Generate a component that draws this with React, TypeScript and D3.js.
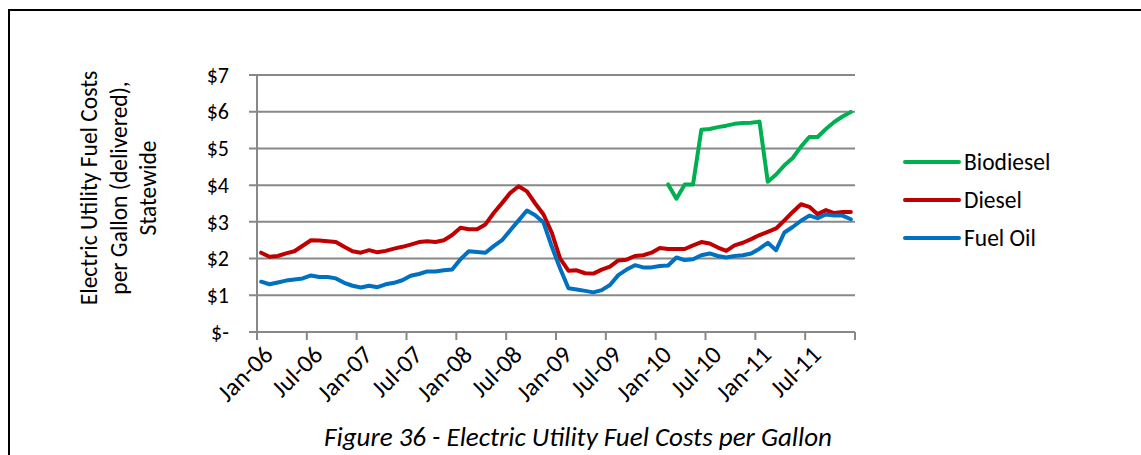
import * as d3 from "d3";

const months = d3.range(72).map((i) => new Date(2006, i, 1));

const diesel = [
  2.16, 2.05, 2.07, 2.14, 2.2, 2.35, 2.5, 2.49, 2.47, 2.45, 2.32, 2.2,
  2.16, 2.23, 2.17, 2.21, 2.27, 2.32, 2.38, 2.45, 2.47, 2.45, 2.5, 2.64,
  2.84, 2.8, 2.8, 2.93, 3.24, 3.51, 3.79, 3.97, 3.83, 3.5, 3.2, 2.7,
  2.0, 1.67, 1.68, 1.6, 1.59, 1.7, 1.78, 1.95, 1.97, 2.07, 2.09, 2.16,
  2.29, 2.26, 2.26, 2.26, 2.36, 2.45, 2.41, 2.3, 2.21, 2.36, 2.43, 2.53,
  2.64, 2.73, 2.82, 3.04, 3.27, 3.48, 3.41, 3.21, 3.32, 3.24, 3.27, 3.27,
];

const fuelOil = [
  1.37, 1.3, 1.35, 1.4, 1.43, 1.46, 1.54, 1.5, 1.5, 1.46, 1.34, 1.26,
  1.21, 1.26, 1.22, 1.3, 1.34, 1.41, 1.53, 1.58, 1.65, 1.65, 1.68, 1.7,
  1.98, 2.2, 2.18, 2.16, 2.34, 2.5, 2.77, 3.04, 3.31, 3.18, 2.98, 2.32,
  1.73, 1.19, 1.16, 1.12, 1.08, 1.14, 1.28, 1.55, 1.7, 1.82, 1.76, 1.76,
  1.8, 1.81, 2.03, 1.96, 1.98, 2.09, 2.14, 2.07, 2.03, 2.07, 2.09, 2.14,
  2.27, 2.43, 2.23, 2.71, 2.86, 3.03, 3.17, 3.1, 3.2, 3.17, 3.17, 3.07,
];

// biodiesel only reported from Feb-10 onward
const biodiesel: (number | null)[] = [
  ...Array(49).fill(null),
  4.02, 3.63, 4.02, 4.02, 5.51, 5.53, 5.58, 5.62, 5.67, 5.69, 5.7,
  5.73, 4.09, 4.29, 4.54, 4.74, 5.05, 5.31, 5.31, 5.53, 5.72, 5.87, 5.99,
];

const yTicks = [0, 1, 2, 3, 4, 5, 6, 7];

const series = [
  { name: "Biodiesel", color: "#00B050", values: biodiesel },
  { name: "Diesel", color: "#C00000", values: diesel },
  { name: "Fuel Oil", color: "#0070C0", values: fuelOil },
];

const font = "Calibri, Carlito, 'Open Sans', sans-serif";

export default function App() {
  const width = 1141;
  const height = 455;
  const left = 257;
  const right = 855;
  const top = 75;
  const bottom = 332;

  const x = d3
    .scaleBand<number>()
    .domain(d3.range(months.length))
    .range([left, right]);
  const y = d3.scaleLinear([0, 7], [bottom, top]);
  const cx = (i: number) => x(i)! + x.bandwidth() / 2;

  const line = d3
    .line<number | null>()
    .defined((d) => d != null)
    .x((_, i) => cx(i))
    .y((d) => y(d as number));

  const fmtTick = (v: number) => (v === 0 ? "$-" : `$${v}`);
  const fmtMonth = d3.timeFormat("%b-%y");
  const tickIdx = d3.range(0, months.length + 1, 6);

  return (
    <svg
      width={width}
      height={height}
      style={{ position: "absolute", left: 0, top: 0, background: "#fff" }}
      fontFamily={font}
    >
      <rect x={9} y={10} width={width + 20} height={height + 20} fill="none" stroke="#000" strokeWidth={2} />

      {/* gridlines + y ticks */}
      {yTicks.map((v) => (
        <g key={v}>
          <line x1={249} x2={right} y1={y(v)} y2={y(v)} stroke="#888" strokeWidth={2} />
          <text x={229} y={y(v)} dy="0.35em" textAnchor="end" fontSize={22} fill="#000">
            {fmtTick(v)}
          </text>
        </g>
      ))}
      <line x1={left} x2={left} y1={top} y2={bottom} stroke="#888" strokeWidth={2} />

      {/* x ticks */}
      {tickIdx.map((i) => {
        const xp = i < months.length ? x(i)! : right;
        return <line key={i} x1={xp} x2={xp} y1={bottom} y2={bottom + 8} stroke="#888" strokeWidth={2} />;
      })}
      {tickIdx
        .filter((i) => i < months.length)
        .map((i) => (
          <text
            key={i}
            transform={`translate(${cx(i) + 7},${bottom + 18}) rotate(-45)`}
            textAnchor="end"
            dy="0.35em"
            fontSize={25}
            fill="#000"
          >
            {fmtMonth(months[i])}
          </text>
        ))}

      {/* lines */}
      {series.map((s) => (
        <path
          key={s.name}
          d={line(s.values) ?? ""}
          fill="none"
          stroke={s.color}
          strokeWidth={4}
          strokeLinejoin="round"
          strokeLinecap="round"
        />
      ))}

      {/* legend */}
      {series.map((s, k) => (
        <g key={s.name} transform={`translate(905,${162 + k * 38})`}>
          <line x1={0} x2={54} stroke={s.color} strokeWidth={4} strokeLinecap="round" />
          <text x={59} dy="0.35em" fontSize={23.5} fill="#000">
            {s.name}
          </text>
        </g>
      ))}

      {/* y axis title */}
      <g transform="translate(0,188) rotate(-90)" fontSize={23.5} textAnchor="middle" fill="#000">
        <text x={0} y={97}>Electric Utility Fuel Costs</text>
        <text x={0} y={127}>per Gallon (delivered),</text>
        <text x={0} y={156}>Statewide</text>
      </g>

      <text x={578} y={446} textAnchor="middle" fontSize={27} fontStyle="italic" fill="#000">
        Figure 36 - Electric Utility Fuel Costs per Gallon
      </text>
    </svg>
  );
}
